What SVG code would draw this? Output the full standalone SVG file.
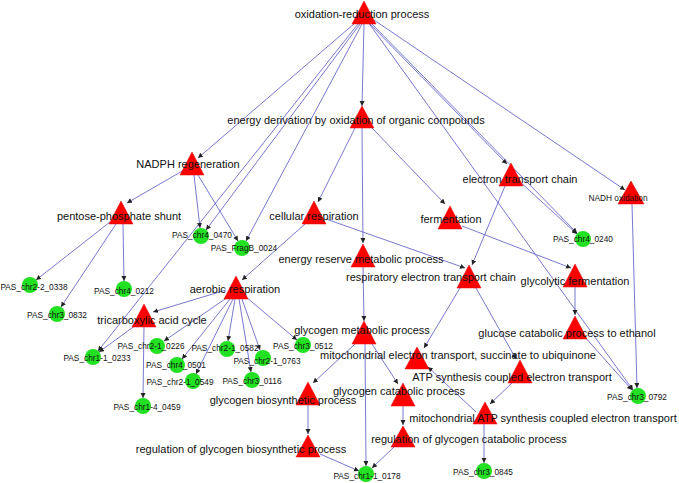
<svg xmlns="http://www.w3.org/2000/svg" width="679" height="483" viewBox="0 0 679 483">
<style>
.e{stroke:#5555c4;stroke-width:0.8;fill:none;marker-end:url(#ah)}
.t{fill:#ff0000;stroke:#e00000;stroke-width:0.5}
.c{fill:#22e022}
.L{font-family:"Liberation Sans",Arial,sans-serif;font-size:11px;fill:#111;text-anchor:middle}
.s{font-family:"Liberation Sans",Arial,sans-serif;font-size:8.3px;fill:#111;text-anchor:middle}
</style>
<defs>
<marker id="ah" markerUnits="userSpaceOnUse" markerWidth="6" markerHeight="6" refX="5" refY="2.5" orient="auto">
<path d="M0,0 L5,2.5 L0,5 z" fill="#222"/>
</marker>
</defs>
<rect width="679" height="483" fill="#fff"/>
<g id="edges">
<line class="e" x1="355" y1="23" x2="198" y2="158"/>
<line class="e" x1="364" y1="24" x2="362" y2="106"/>
<line class="e" x1="358" y1="24" x2="98" y2="351"/>
<line class="e" x1="360" y1="24" x2="206" y2="230"/>
<line class="e" x1="362" y1="24" x2="246" y2="241"/>
<line class="e" x1="368" y1="22" x2="507" y2="164"/>
<line class="e" x1="370" y1="22" x2="577" y2="233"/>
<line class="e" x1="368" y1="22" x2="633" y2="390"/>
<line class="e" x1="374" y1="20" x2="625" y2="190"/>
<line class="e" x1="355" y1="128" x2="318" y2="202"/>
<line class="e" x1="362" y1="128" x2="363" y2="243"/>
<line class="e" x1="372" y1="128" x2="445" y2="204"/>
<line class="e" x1="184" y1="170" x2="127" y2="203"/>
<line class="e" x1="194" y1="175" x2="200" y2="228"/>
<line class="e" x1="198" y1="175" x2="238" y2="241"/>
<line class="e" x1="110" y1="222" x2="36" y2="280"/>
<line class="e" x1="116" y1="224" x2="61" y2="307"/>
<line class="e" x1="123" y1="224" x2="124" y2="281"/>
<line class="e" x1="305" y1="224" x2="242" y2="280"/>
<line class="e" x1="326" y1="219" x2="465" y2="268"/>
<line class="e" x1="363" y1="267" x2="364" y2="321"/>
<line class="e" x1="462" y1="226" x2="571" y2="268"/>
<line class="e" x1="518" y1="180" x2="577" y2="234"/>
<line class="e" x1="505" y1="186" x2="472" y2="265"/>
<line class="e" x1="632" y1="204" x2="637" y2="388"/>
<line class="e" x1="460" y1="288" x2="424" y2="348"/>
<line class="e" x1="476" y1="288" x2="516" y2="359"/>
<line class="e" x1="575" y1="287" x2="575" y2="315"/>
<line class="e" x1="584" y1="336" x2="632" y2="390"/>
<line class="e" x1="226" y1="290" x2="153" y2="312"/>
<line class="e" x1="228" y1="297" x2="164" y2="341"/>
<line class="e" x1="230" y1="299" x2="182" y2="359"/>
<line class="e" x1="233" y1="299" x2="196" y2="374"/>
<line class="e" x1="235" y1="299" x2="228" y2="341"/>
<line class="e" x1="239" y1="299" x2="251" y2="372"/>
<line class="e" x1="242" y1="299" x2="260" y2="350"/>
<line class="e" x1="246" y1="297" x2="297" y2="340"/>
<line class="e" x1="136" y1="325" x2="99" y2="352"/>
<line class="e" x1="144" y1="327" x2="143" y2="398"/>
<line class="e" x1="355" y1="344" x2="313" y2="383"/>
<line class="e" x1="365" y1="344" x2="366" y2="466"/>
<line class="e" x1="372" y1="344" x2="398" y2="384"/>
<line class="e" x1="308" y1="405" x2="308" y2="434"/>
<line class="e" x1="320" y1="454" x2="359" y2="471"/>
<line class="e" x1="403" y1="406" x2="403" y2="425"/>
<line class="e" x1="394" y1="447" x2="372" y2="468"/>
<line class="e" x1="512" y1="383" x2="490" y2="404"/>
<line class="e" x1="476" y1="412" x2="428" y2="367"/>
<line class="e" x1="484" y1="424" x2="484" y2="463"/>
</g>
<g id="n_oxred"><polygon class="t" points="364,1 352,24 376,24"/><text class="L" x="362" y="18">oxidation-reduction process</text></g>
<g id="n_energyderiv"><polygon class="t" points="362,106 350,128 374,128"/><text class="L" x="356" y="124">energy derivation by oxidation of organic compounds</text></g>
<g id="n_nadph"><polygon class="t" points="192,152 180,175 204,175"/><text class="L" x="188" y="168">NADPH regeneration</text></g>
<g id="n_pentose"><polygon class="t" points="121,201 109,224 133,224"/><text class="L" x="119" y="220">pentose-phosphate shunt</text></g>
<g id="n_cellresp"><polygon class="t" points="314,201 302,224 326,224"/><text class="L" x="314" y="220">cellular respiration</text></g>
<g id="n_ferment"><polygon class="t" points="450,206 438,229 462,229"/><text class="L" x="451" y="223">fermentation</text></g>
<g id="n_etc"><polygon class="t" points="511,163 499,186 523,186"/><text class="L" x="520" y="183">electron transport chain</text></g>
<g id="n_nadhox"><polygon class="t" points="631,181 618,204 644,204"/><text class="s" x="618" y="201">NADH oxidation</text></g>
<g id="n_energyres"><polygon class="t" points="363,244 351,267 375,267"/><text class="L" x="361" y="263">energy reserve metabolic process</text></g>
<g id="n_respetc"><polygon class="t" points="469,265 457,288 481,288"/><text class="L" x="431" y="281">respiratory electron transport chain</text></g>
<g id="n_glycferm"><polygon class="t" points="575,264 563,287 587,287"/><text class="L" x="575" y="285">glycolytic fermentation</text></g>
<g id="n_aerobic"><polygon class="t" points="236,276 224,299 248,299"/><text class="L" x="235" y="293">aerobic respiration</text></g>
<g id="n_tca"><polygon class="t" points="144,304 132,327 156,327"/><text class="L" x="152" y="324">tricarboxylic acid cycle</text></g>
<g id="n_glucose"><polygon class="t" points="575,316 563,339 587,339"/><text class="L" x="567" y="337">glucose catabolic process to ethanol</text></g>
<g id="n_glycmet"><polygon class="t" points="364,321 352,344 376,344"/><text class="L" x="362" y="334">glycogen metabolic process</text></g>
<g id="n_succ"><polygon class="t" points="417,347 405,369 429,369"/><text class="L" x="458" y="359">mitochondrial electron transport, succinate to ubiquinone</text></g>
<g id="n_atpcoupled"><polygon class="t" points="520,360 508,383 532,383"/><text class="L" x="512" y="381">ATP synthesis coupled electron transport</text></g>
<g id="n_glyccat"><polygon class="t" points="403,383 391,406 415,406"/><text class="L" x="399" y="395">glycogen catabolic process</text></g>
<g id="n_glycbio"><polygon class="t" points="308,382 296,405 320,405"/><text class="L" x="283" y="404">glycogen biosynthetic process</text></g>
<g id="n_mitoatp"><polygon class="t" points="485,402 473,424 497,424"/><text class="L" x="543" y="422">mitochondrial ATP synthesis coupled electron transport</text></g>
<g id="n_regglyccat"><polygon class="t" points="403,426 391,447 415,447"/><text class="L" x="469" y="443">regulation of glycogen catabolic process</text></g>
<g id="n_regglycbio"><polygon class="t" points="308,435 296,457 320,457"/><text class="L" x="241" y="453">regulation of glycogen biosynthetic process</text></g>
<g id="n_chr4_0470"><circle class="c" cx="201" cy="236" r="8"/><text class="s" x="202" y="238">PAS_chr4_0470</text></g>
<g id="n_fragb_0024"><circle class="c" cx="242" cy="248" r="8"/><text class="s" x="244" y="251">PAS_FragB_0024</text></g>
<g id="n_chr2-2_0338"><circle class="c" cx="30" cy="285" r="8"/><text class="s" x="34" y="290">PAS_chr2-2_0338</text></g>
<g id="n_chr4_0212"><circle class="c" cx="124" cy="289" r="8"/><text class="s" x="124" y="294">PAS_chr4_0212</text></g>
<g id="n_chr3_0832"><circle class="c" cx="57" cy="314" r="8"/><text class="s" x="57" y="318">PAS_chr3_0832</text></g>
<g id="n_chr4_0240"><circle class="c" cx="583" cy="239" r="8"/><text class="s" x="583" y="242">PAS_chr4_0240</text></g>
<g id="n_chr1-1_0233"><circle class="c" cx="93" cy="357" r="8"/><text class="s" x="97" y="361">PAS_chr1-1_0233</text></g>
<g id="n_chr2-1_0226"><circle class="c" cx="157" cy="346" r="8"/><text class="s" x="151" y="349">PAS_chr2-1_0226</text></g>
<g id="n_chr4_0501"><circle class="c" cx="177" cy="365" r="8"/><text class="s" x="176" y="368">PAS_chr4_0501</text></g>
<g id="n_chr2-1_0549"><circle class="c" cx="193" cy="381" r="8"/><text class="s" x="180" y="385">PAS_chr2-1_0549</text></g>
<g id="n_chr1-4_0459"><circle class="c" cx="143" cy="406" r="8"/><text class="s" x="147" y="410">PAS_chr1-4_0459</text></g>
<g id="n_chr2-1_0582"><circle class="c" cx="227" cy="349" r="8"/><text class="s" x="225" y="351">PAS_chr2-1_0582</text></g>
<g id="n_chr2-1_0763"><circle class="c" cx="263" cy="358" r="8"/><text class="s" x="267" y="364">PAS_chr2-1_0763</text></g>
<g id="n_chr3_0116"><circle class="c" cx="252" cy="380" r="8"/><text class="s" x="252" y="384">PAS_chr3_0116</text></g>
<g id="n_chr3_0512"><circle class="c" cx="303" cy="345" r="8"/><text class="s" x="303" y="349">PAS_chr3_0512</text></g>
<g id="n_chr3_0792"><circle class="c" cx="638" cy="396" r="8"/><text class="s" x="637" y="400">PAS_chr3_0792</text></g>
<g id="n_chr3_0845"><circle class="c" cx="484" cy="471" r="8"/><text class="s" x="483" y="475">PAS_chr3_0845</text></g>
<g id="n_chr1-1_0178"><circle class="c" cx="366" cy="474" r="8"/><text class="s" x="367" y="479">PAS_chr1-1_0178</text></g>
</svg>
